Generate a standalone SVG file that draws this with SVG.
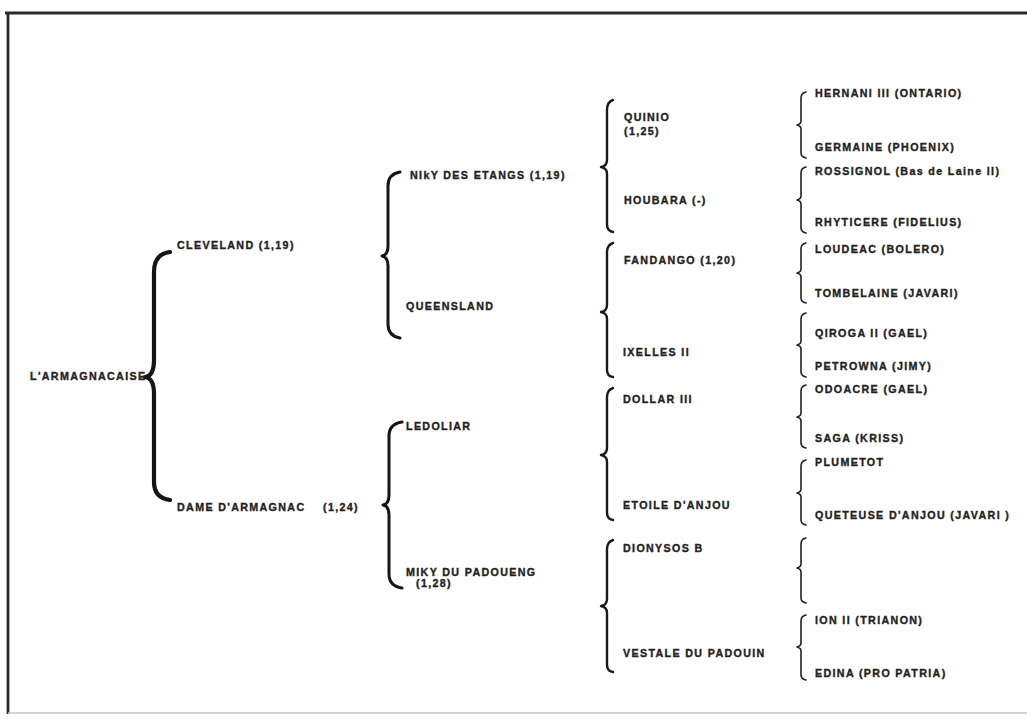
<svg xmlns="http://www.w3.org/2000/svg" width="1027" height="719" viewBox="0 0 1027 719">
<style>
text{font-family:"Liberation Sans",Arial,sans-serif;font-weight:bold;font-size:10.7px;letter-spacing:1.35px;fill:#222;stroke:#222;stroke-width:0.35}
.b1{fill:none;stroke:#151515;stroke-width:4.2;stroke-linecap:round;stroke-linejoin:round}
.b2{fill:none;stroke:#151515;stroke-width:3;stroke-linecap:round;stroke-linejoin:round}
.b3{fill:none;stroke:#1a1a1a;stroke-width:2.4;stroke-linecap:round;stroke-linejoin:round}
.b4{fill:none;stroke:#222;stroke-width:1.6;stroke-linecap:round;stroke-linejoin:round}
.frame{stroke:#2a2a2a;stroke-width:2.8}
</style>
<rect width="1027" height="719" fill="#fff"/>
<g id="frame">
<line class="frame" x1="5" y1="13" x2="1027" y2="13"/>
<line class="frame" x1="8" y1="12" x2="8" y2="714"/>
<line x1="8" y1="713" x2="1027" y2="713" stroke="#c4c4c4" stroke-width="1.5"/>
</g>
<g id="connectors">
<path class="b1" d="M170,252 Q154,254 154,272 L154,360 Q154,376 145,377 Q154,378 154,394 L154,482 Q154,498 170,500"/>
<path class="b2" d="M400,172 Q388,174 388,186 L388,246 Q388,255 382,256 Q388,257 388,266 L388,324 Q388,336 400,338"/>
<path class="b2" d="M402,422 Q389,424 389,436 L389,495 Q389,504 383,505 Q389,506 389,515 L389,574 Q389,586 402,588"/>
<path class="b3" d="M613,100 Q607,102 607,110 L607,160 Q607,166 601,167 Q607,168 607,174 L607,224 Q607,231 613,232"/>
<path class="b3" d="M613,243 Q607,245 607,252 L607,305 Q607,311 601,312 Q607,313 607,319 L607,370 Q607,376 613,377"/>
<path class="b3" d="M613,388 Q607,390 607,397 L607,448 Q607,454 601,455 Q607,456 607,462 L607,513 Q607,519 613,520"/>
<path class="b3" d="M613,540 Q607,542 607,549 L607,599 Q607,605 601,606 Q607,607 607,613 L607,665 Q607,671 613,672"/>
<path class="b4" d="M806,92 Q801,93 801,98 L801,121 Q801,124 797,125 Q801,126 801,129 L801,153 Q801,157 806,158"/>
<path class="b4" d="M806,167 Q801,168 801,173 L801,196 Q801,199 797,200 Q801,201 801,204 L801,228 Q801,232 806,233"/>
<path class="b4" d="M806,243 Q801,244 801,249 L801,269 Q801,272 797,273 Q801,274 801,277 L801,298 Q801,302 806,303"/>
<path class="b4" d="M806,313 Q801,314 801,319 L801,341 Q801,344 797,345 Q801,346 801,349 L801,372 Q801,376 806,377"/>
<path class="b4" d="M806,385 Q801,386 801,391 L801,413 Q801,416 797,417 Q801,418 801,421 L801,443 Q801,447 806,448"/>
<path class="b4" d="M806,460 Q801,461 801,466 L801,489 Q801,492 797,493 Q801,494 801,497 L801,520 Q801,524 806,525"/>
<path class="b4" d="M806,538 Q801,539 801,544 L801,564 Q801,567 797,568 Q801,569 801,572 L801,598 Q801,602 806,603"/>
<path class="b4" d="M806,615 Q801,616 801,621 L801,643 Q801,646 797,647 Q801,648 801,651 L801,675 Q801,679 806,680"/>
</g>
<g id="n-armagnacaise"><text x="30" y="380">L'ARMAGNACAISE</text></g>
<g id="n-cleveland"><text x="177" y="249">CLEVELAND (1,19)</text></g>
<g id="n-dame"><text x="177" y="511">DAME D'ARMAGNAC</text><text x="323" y="511">(1,24)</text></g>
<g id="n-niky"><text x="410" y="178.5">NIkY DES ETANGS (1,19)</text></g>
<g id="n-queensland"><text x="406" y="310">QUEENSLAND</text></g>
<g id="n-ledoliar"><text x="406" y="430">LEDOLIAR</text></g>
<g id="n-miky"><text x="406" y="575.5">MIKY DU PADOUENG</text><text x="416" y="587">(1,28)</text></g>
<g id="n-quinio"><text x="624" y="121">QUINIO</text><text x="624" y="135">(1,25)</text></g>
<g id="n-houbara"><text x="624" y="204">HOUBARA (-)</text></g>
<g id="n-fandango"><text x="624" y="264">FANDANGO (1,20)</text></g>
<g id="n-ixelles"><text x="623" y="355.5">IXELLES II</text></g>
<g id="n-dollar"><text x="623" y="402.5">DOLLAR III</text></g>
<g id="n-etoile"><text x="623" y="508.5">ETOILE D'ANJOU</text></g>
<g id="n-dionysos"><text x="623" y="551.5">DIONYSOS B</text></g>
<g id="n-vestale"><text x="623" y="656.5">VESTALE DU PADOUIN</text></g>
<g id="n-hernani"><text x="815" y="96.5">HERNANI III (ONTARIO)</text></g>
<g id="n-germaine"><text x="815" y="150.5">GERMAINE (PHOENIX)</text></g>
<g id="n-rossignol"><text x="815" y="174.5">ROSSIGNOL (Bas de Laine II)</text></g>
<g id="n-rhyticere"><text x="815" y="225.5">RHYTICERE (FIDELIUS)</text></g>
<g id="n-loudeac"><text x="815" y="252.5">LOUDEAC (BOLERO)</text></g>
<g id="n-tombelaine"><text x="815" y="296.5">TOMBELAINE (JAVARI)</text></g>
<g id="n-qiroga"><text x="815" y="336.5">QIROGA II (GAEL)</text></g>
<g id="n-petrowna"><text x="815" y="369.5">PETROWNA (JIMY)</text></g>
<g id="n-odoacre"><text x="815" y="392.5">ODOACRE (GAEL)</text></g>
<g id="n-saga"><text x="815" y="441.5">SAGA (KRISS)</text></g>
<g id="n-plumetot"><text x="815" y="465.5">PLUMETOT</text></g>
<g id="n-queteuse"><text x="815" y="518.5">QUETEUSE D'ANJOU (JAVARI )</text></g>
<g id="n-ion"><text x="815" y="623.5">ION II (TRIANON)</text></g>
<g id="n-edina"><text x="815" y="676.5">EDINA (PRO PATRIA)</text></g>
</svg>
